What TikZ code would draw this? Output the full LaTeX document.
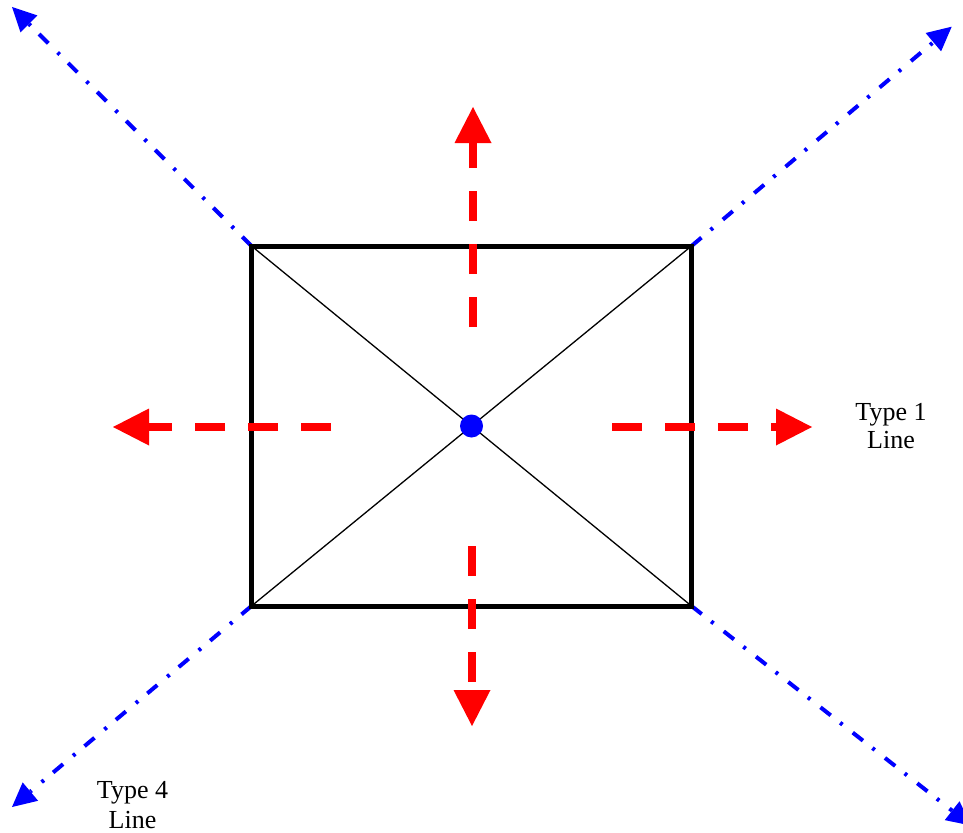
\documentclass[tikz,border=0pt]{standalone}
\usepackage{fontspec}
\setmainfont{Liberation Serif}
\usetikzlibrary{arrows.meta}
\definecolor{pred}{RGB}{255,0,0}
\definecolor{pblue}{RGB}{0,0,255}
\begin{document}
\begin{tikzpicture}[x=1pt,y=-1pt,
  redarrow/.style={draw=pred, line width=8.5pt, dash pattern=on 30pt off 23pt,
    -{Triangle[length=36pt,width=37pt,line width=0pt]}},
  bluearrow/.style={draw=pblue, line width=4pt, dash pattern=on 13pt off 12pt on 3pt off 13pt,
    -{Triangle[length=24pt,width=24pt,line width=0pt]}},
  boxline/.style={line width=5pt},
  diag/.style={line width=1.3pt},
  lbl/.style={font=\fontsize{26}{28}\selectfont, inner sep=0pt, anchor=base}
]
\useasboundingbox (0,0) rectangle (963,832);
\clip (0,0) rectangle (963,832);
% corners
\coordinate (nw) at (251.5,246);
\coordinate (ne) at (691.5,246);
\coordinate (sw) at (251.5,606);
\coordinate (se) at (691.5,606);
% blue tips
\coordinate (tnw) at (12,7);
\coordinate (tne) at (951.7,26.7);
\coordinate (tsw) at (12,807);
\coordinate (tse) at (971,825.5);
% blue dash-dot lines
\draw[bluearrow] (nw) -- (tnw);
\draw[bluearrow] (ne) -- (tne);
\draw[bluearrow] (sw) -- (tsw);
\draw[bluearrow] (se) -- (tse);
% box and diagonals
\draw[boxline] (nw) rectangle (se);
\draw[diag] (nw) -- (se);
\draw[diag] (ne) -- (sw);
% red arrows
\coordinate (us) at (473,327);
\coordinate (ut) at (473,107);
\coordinate (ds) at (472,546);
\coordinate (dt) at (472,726);
\coordinate (ls) at (331,427);
\coordinate (lt) at (113,427);
\coordinate (rs) at (612,427);
\coordinate (rt) at (812,427);
\draw[redarrow] (us) -- (ut);
\draw[redarrow] (ds) -- (dt);
\draw[redarrow] (ls) -- (lt);
\draw[redarrow] (rs) -- (rt);
% centre dot
\node[circle, fill=pblue, minimum size=23pt, inner sep=0pt] (c) at (471.5,426) {};
% labels
\node[lbl] (t1a) at (891,420) {Type 1};
\node[lbl] (t1b) at (891,448) {Line};
\node[lbl] (t4a) at (132.5,798) {Type 4};
\node[lbl] (t4b) at (132.5,828) {Line};
\end{tikzpicture}
\end{document}
